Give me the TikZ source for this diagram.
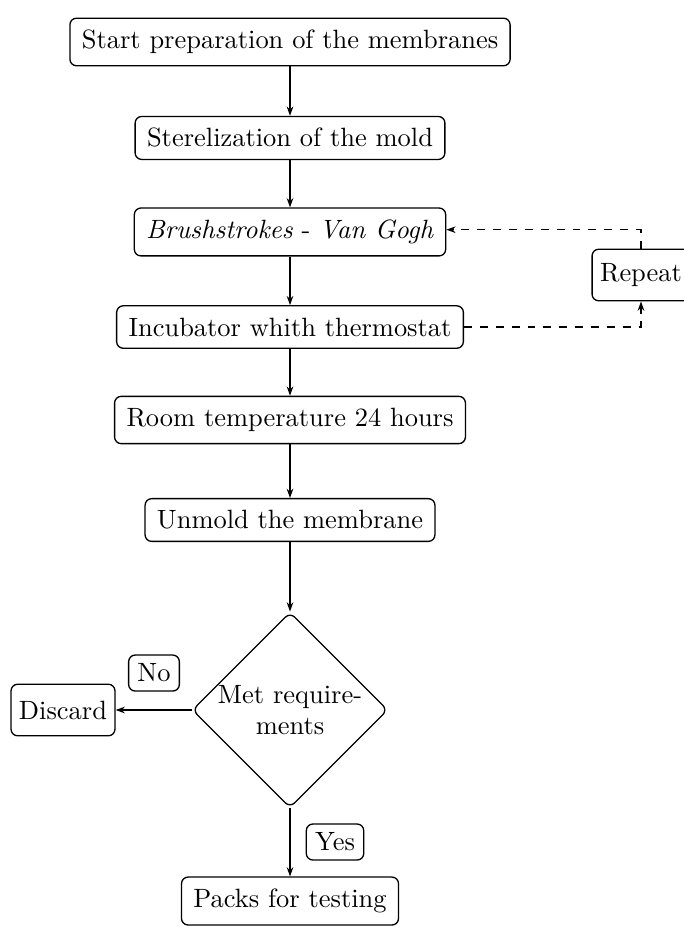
\documentclass[tikz,border=0pt]{standalone}
\usetikzlibrary{shapes.geometric, arrows.meta, positioning, calc}
\tikzset{
  procbox/.style={
    draw, rounded corners=2.5pt, inner sep=4.5pt,
    line width=0.5pt, align=center,
  },
  sidebox/.style={
    procbox, minimum height=19.5pt, inner sep=3pt,
  },
  tagbox/.style={
    draw, rounded corners=2.5pt, line width=0.5pt,
  },
  decisionnode/.style={
    draw, diamond, aspect=1, inner sep=0pt, line width=0.5pt,
    text width=55pt, align=center, rounded corners=2.5pt,
  },
  arw/.style={-{Stealth[length=3.5pt, width=2.5pt]}, line width=0.5pt},
}

\begin{document}
\begin{tikzpicture}
  \useasboundingbox (0,0) rectangle (9.075,-12.316);

  % Main chain of steps
  \node[procbox] (start)  at (3.853,-0.558) {Start preparation of the membranes};
  \node[procbox] (steril) at (3.853,-1.833) {Sterelization of the mold};
  \node[procbox] (brush)  at (3.853,-3.082) {\emph{Brushstrokes} - \emph{Van Gogh}};
  \node[procbox] (incub)  at (3.853,-4.345) {Incubator whith thermostat};
  \node[procbox] (room)   at (3.853,-5.580) {Room temperature 24 hours};
  \node[procbox] (unmold) at (3.853,-6.909) {Unmold the membrane};
  \node[decisionnode] (check) at (3.853,-9.433) {Met require-\\ments};
  \node[procbox] (packs)  at (3.853,-11.971) {Packs for testing};

  % Side nodes
  \node[sidebox] (discard) at (0.837,-9.433) {Discard};
  \node[sidebox] (repeat)  at (8.516,-3.654) {Repeat};
  \node[tagbox] (no)  at (2.046,-8.942) {No};
  \node[tagbox] (yes) at (4.451,-11.187) {Yes};

  % Connecting arrows
  \foreach \a/\b in {start/steril, steril/brush, brush/incub, incub/room, room/unmold, unmold/check} {
    \draw[arw] (\a) -- (\b);
  }
  \draw[arw] (check.west) -- (discard.east);
  \draw[arw] (check.south) -- (packs.north);

  % Repeat loop
  \draw[arw, dashed] (incub.east) -| (repeat.south);
  \draw[arw, dashed] (repeat.north) |- ($(brush.east)+(0,0.03)$);
\end{tikzpicture}
\end{document}
